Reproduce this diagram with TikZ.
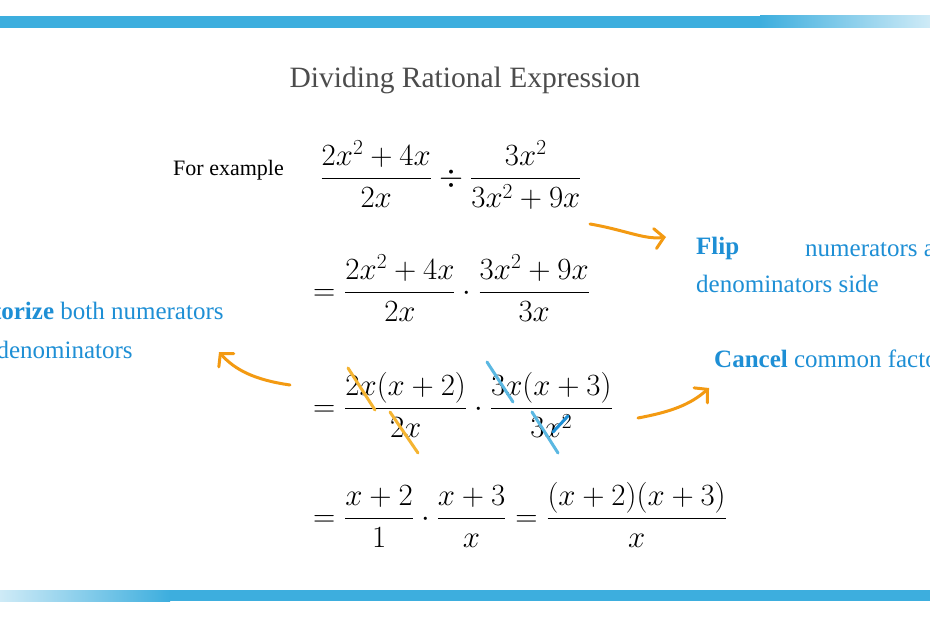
\documentclass[tikz,border=0pt]{standalone}
\usepackage{fontspec}
\setmainfont{Liberation Serif}
\usepackage{amsmath}
\usepackage{graphicx}
\usetikzlibrary{arrows.meta}
\definecolor{barblue}{HTML}{3DAEDE}
\definecolor{txtblue}{HTML}{1E8FD5}
\definecolor{arrorange}{HTML}{F39A12}
\definecolor{strkorange}{HTML}{F5B431}
\definecolor{strkblue}{HTML}{5BB8E2}
\newcommand{\bigeq}[1]{\scalebox{1.24}{$#1$}}
\tikzset{
  eq/.style={inner sep=0pt,font=\fontsize{23}{28}\selectfont},
  lbl/.style={inner sep=0pt,anchor=west,text=txtblue,font=\fontsize{25}{30}\selectfont},
  arr/.style={draw=arrorange,line width=3pt,line cap=round,-{Straight Barb[length=9pt,width=20pt,line cap=round]}},
  cross/.style={line width=3pt,line cap=round},
}
\begin{document}
\begin{tikzpicture}[x=1pt,y=-1pt]
\useasboundingbox (0,0) rectangle (930,620);
\clip (0,0) rectangle (930,620);
\fill[white] (0,0) rectangle (930,620);
\fill[barblue] (0,16) rectangle (761,28);
\shade[left color=barblue,right color=barblue!25] (760,16) rectangle (930,28);
\fill[barblue] (169,590) rectangle (930,601);
\shade[left color=barblue!25,right color=barblue] (0,590) rectangle (170,601);
\node[inner sep=0pt,text=black!70,font=\fontsize{29.5}{34}\selectfont] (title) at (465,80) {Dividing Rational Expression};
\node[inner sep=0pt,font=\fontsize{22}{26}\selectfont,anchor=west] (ex) at (173,170) {For example};
\node[eq,anchor=west] (l1) at (320,175) {\bigeq{\dfrac{2x^2+4x}{2x}\div\dfrac{3x^2}{3x^2+9x}}};
\node[eq,anchor=west] (l2) at (313,288) {\bigeq{=\dfrac{2x^2+4x}{2x}\cdot\dfrac{3x^2+9x}{3x}}};
\node[eq,anchor=west] (l3) at (313,405) {\bigeq{=\dfrac{2x(x+2)}{2x}\cdot\dfrac{3x(x+3)}{3x^2}}};
\node[eq,anchor=west] (l4) at (313,515) {\bigeq{=\dfrac{x+2}{1}\cdot\dfrac{x+3}{x}=\dfrac{(x+2)(x+3)}{x}}};
\draw[cross,strkorange] (348,368) -- (375,410);
\draw[cross,strkorange] (390,412) -- (418,453);
\draw[cross,strkblue] (487,362) -- (513,402);
\draw[cross,strkblue] (532,412) -- (558,453);
\draw[cross,txtblue] (553,432) -- (568,416);
\node[lbl] (flip) at (696,248) {\textbf{Flip}};
\node[lbl] (flip2) at (805,248) {numerators and};
\node[lbl] (flip3) at (696,284) {denominators side};
\node[lbl,align=left,anchor=north west] (fac) at (-46,302) {\textbf{Factorize} both numerators\\[9pt]and denominators};
\node[lbl] (can) at (714,359) {\textbf{Cancel} common factors};
\coordinate (a1s) at (590,224);
\coordinate (a1e) at (666,237);
\coordinate (a2s) at (290,385);
\coordinate (a2e) at (219,352);
\coordinate (a3s) at (638,418);
\coordinate (a3e) at (709,388);
\draw[arr] (a1s) .. controls (625,230) and (645,240) .. (a1e);
\draw[arr] (a2s) .. controls (255,380) and (235,370) .. (a2e);
\draw[arr] (a3s) .. controls (670,412) and (690,405) .. (a3e);
\end{tikzpicture}
\end{document}
